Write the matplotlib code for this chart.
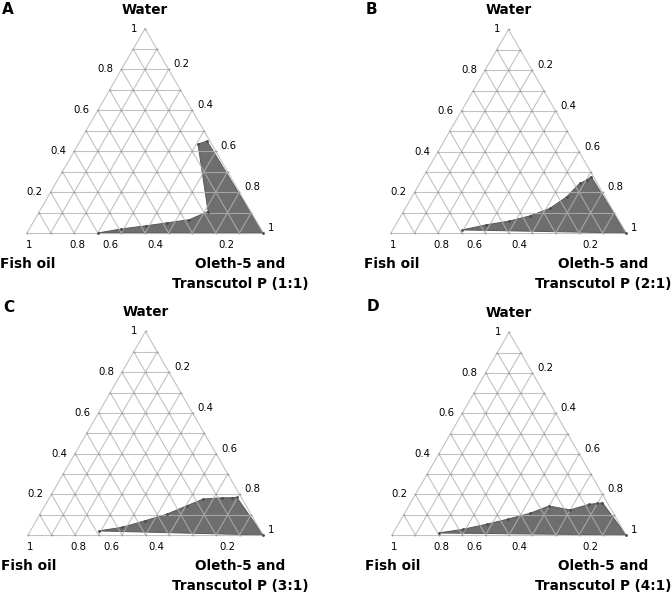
import numpy as np
import matplotlib
matplotlib.use("Agg")
import matplotlib.pyplot as plt

# ternary data: (fish oil fraction, water fraction); surfactant = rest
panel_letters = ["A", "B", "C", "D"]
ratios = ["1:1", "2:1", "3:1", "4:1"]

oil_A = [0.70, 0.59, 0.48, 0.38, 0.28, 0.18, 0.058, 0.012, 0.0]
water_A = [0.0, 0.02, 0.035, 0.05, 0.065, 0.105, 0.435, 0.45, 0.0]

oil_B = [0.69, 0.575, 0.47, 0.367, 0.263, 0.163, 0.074, 0.037, 0.01, 0.0]
water_B = [0.015, 0.04, 0.058, 0.084, 0.121, 0.178, 0.244, 0.26, 0.277, 0.0]

oil_C = [0.69, 0.58, 0.467, 0.359, 0.251, 0.165, 0.081, 0.042, 0.019, 0.0]
water_C = [0.02, 0.038, 0.07, 0.102, 0.144, 0.177, 0.183, 0.183, 0.185, 0.0]

oil_D = [0.795, 0.684, 0.569, 0.463, 0.357, 0.257, 0.177, 0.083, 0.045, 0.021, 0.0]
water_D = [0.01, 0.028, 0.053, 0.079, 0.107, 0.143, 0.124, 0.151, 0.156, 0.159, 0.0]

tick_values = [1.0, 0.8, 0.6, 0.4, 0.2]
tick_labels = ["1", "0.8", "0.6", "0.4", "0.2"]

H = np.sqrt(3) / 2
GRID = "#b4b4b4"
FILL = "#6e6e6e"


def tern(oil, water):
    oil = np.asarray(oil, dtype=float)
    water = np.asarray(water, dtype=float)
    return 1 - oil - water / 2, water * H


def draw_panel(ax, oil, water, letter, ratio, bx, by, s):
    """bx, by: bottom-left corner in quadrant pixels (y down), s: side in px."""
    ax.set_xlim(-bx / s, (336 - bx) / s)
    ax.set_ylim((by - 298) / s, by / s)
    ax.axis("off")
    px = 1.0 / s

    # region
    x, y = tern(oil, water)
    ax.fill(x, y, facecolor=FILL, edgecolor="#585858", lw=0.7, zorder=1)
    ax.plot(x, y, "o", color="#4a4a4a", ms=2.0, mew=0, zorder=4)

    # grid
    for v in np.arange(0, 1.01, 0.1):
        # constant water
        ax.plot([v / 2, 1 - v / 2], [v * H, v * H], color=GRID, lw=0.8, alpha=0.8, zorder=2)
        # constant oil
        xa, ya = tern([v, v], [0, 1 - v])
        ax.plot(xa, ya, color=GRID, lw=0.8, alpha=0.8, zorder=2)
        # constant surfactant
        xb, yb = tern([1 - v, 0], [0, 1 - v])
        ax.plot(xb, yb, color=GRID, lw=0.8, alpha=0.8, zorder=2)
    nodes = [(i / 10, j / 10) for i in range(11) for j in range(11 - i)]
    nx, ny = tern([n[0] for n in nodes], [n[1] for n in nodes])
    ax.plot(nx, ny, "o", color="#9a9a9a", ms=1.3, mew=0, zorder=3)

    # tick labels
    fs = 7.3
    for v, t in zip(tick_values, tick_labels):
        ax.text(v / 2 - 8 * px, v * H, t, ha="right", va="center", fontsize=fs)
        ax.text(1 - (1 - v) / 2 + 5 * px, (1 - v) * H + 5 * px, t, ha="left", va="center", fontsize=fs)
    nudges = [2, 3, -11, -13, 11]
    for v, t, n in zip(tick_values, tick_labels, nudges):
        ax.text(1 - v + n * px, -12 * px, t, ha="center", va="center", fontsize=fs)

    # axis titles
    bold = dict(fontsize=9.8, fontweight="bold")
    ax.text(0.5, H + 19 * px, "Water", ha="center", va="center", **bold)
    ax.text(-27 * px, -31 * px, "Fish oil", ha="left", va="center", **bold)
    ax.text(1 - 23 * px, -31 * px, "Oleth-5 and", ha="center", va="center", **bold)
    ax.text(1 - 23 * px, -51 * px, f"Transcutol P ({ratio})", ha="center", va="center", **bold)
    ax.text(-25 * px, (by - 9) * px, letter, ha="left", va="center", fontsize=11, fontweight="bold")


fig = plt.figure(figsize=(6.72, 5.96), dpi=100)
data = [(oil_A, water_A), (oil_B, water_B), (oil_C, water_C), (oil_D, water_D)]
geom = [(27, 233, 236), (55, 233, 235), (28, 237, 235), (56, 237, 234)]
for k, ((oil, water), (bx, by, s)) in enumerate(zip(data, geom)):
    col, row = k % 2, k // 2
    ax = fig.add_axes([col * 0.5, 0.5 - row * 0.5, 0.5, 0.5])
    draw_panel(ax, oil, water, panel_letters[k], ratios[k], bx, by, s)

fig.savefig("out.png", dpi=100)
